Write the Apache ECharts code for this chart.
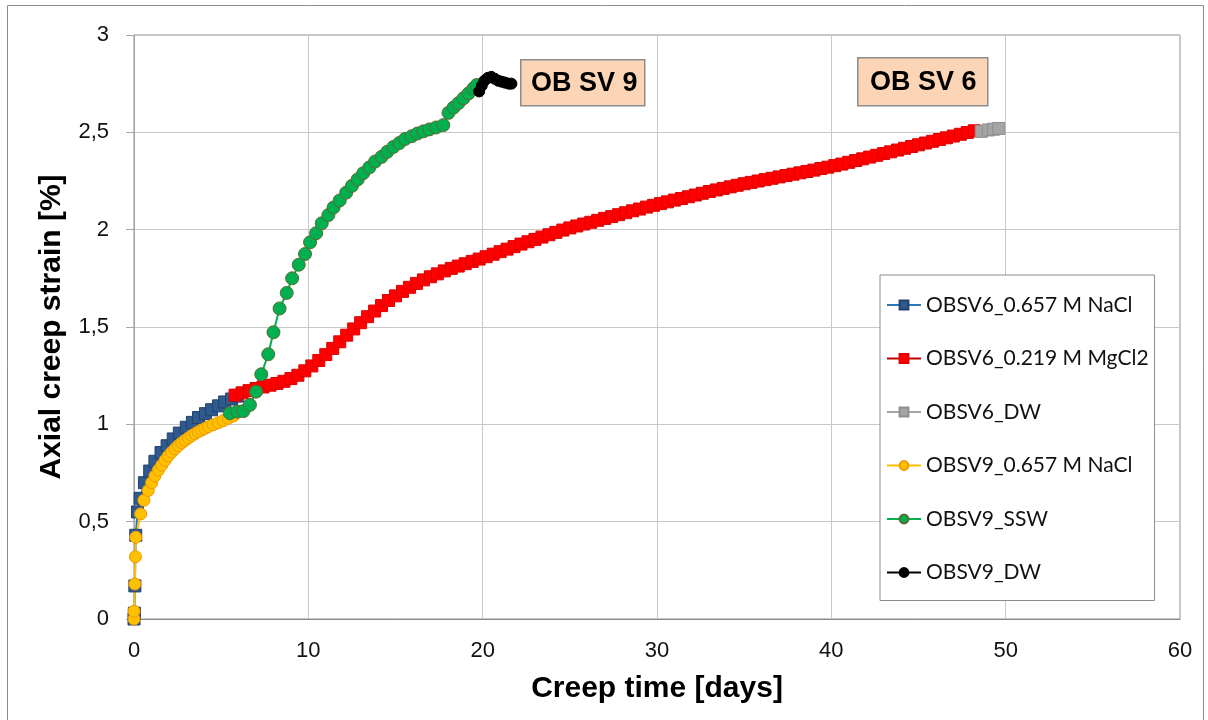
<!DOCTYPE html>
<html>
<head>
<meta charset="utf-8">
<script src="https://cdn.jsdelivr.net/npm/echarts@6/dist/echarts.min.js"></script>
<style>
  html, body { margin: 0; padding: 0; background: #fff; }
  #chart { width: 1208px; height: 720px; }
</style>
</head>
<body>
<div id="chart"></div>
<script>
// Creep tests: axial creep strain [%] versus creep time [days], pairs of [time, strain]
const seriesNames = [
  'OBSV6_0.657 M NaCl',
  'OBSV6_0.219 M MgCl2',
  'OBSV6_DW',
  'OBSV9_0.657 M NaCl',
  'OBSV9_SSW',
  'OBSV9_DW'
];

const obsv6NaCl = [
  [0, 0], [0.02, 0.03], [0.05, 0.17], [0.1, 0.43], [0.2, 0.55], [0.35, 0.62],
  [0.6, 0.70], [0.9, 0.76], [1.2, 0.81], [1.55, 0.855], [1.9, 0.89], [2.25, 0.925],
  [2.6, 0.955], [3.0, 0.985], [3.35, 1.01], [3.7, 1.035], [4.1, 1.055], [4.45, 1.075],
  [4.85, 1.095], [5.2, 1.115], [5.6, 1.13], [5.95, 1.145]
];

const obsv6MgCl2 = [
  [5.8, 1.150], [6.2, 1.162], [6.6, 1.173], [7.0, 1.184], [7.4, 1.192], [7.8, 1.201],
  [8.2, 1.210], [8.6, 1.221], [9.0, 1.235], [9.4, 1.252], [9.8, 1.275], [10.2, 1.300],
  [10.6, 1.328], [11.0, 1.358], [11.4, 1.390], [11.8, 1.424], [12.2, 1.458], [12.6, 1.490],
  [13.0, 1.522], [13.4, 1.553], [13.8, 1.582], [14.2, 1.610], [14.6, 1.636], [15.0, 1.660],
  [15.4, 1.683], [15.8, 1.704], [16.2, 1.724], [16.6, 1.742], [17.0, 1.758], [17.4, 1.773],
  [17.8, 1.788], [18.2, 1.801], [18.6, 1.813], [19.0, 1.825], [19.4, 1.837], [19.8, 1.849],
  [20.2, 1.861], [20.6, 1.874], [21.0, 1.887], [21.4, 1.900], [21.8, 1.913], [22.2, 1.926],
  [22.6, 1.938], [23.0, 1.950], [23.4, 1.962], [23.8, 1.974], [24.2, 1.986], [24.6, 1.998],
  [25.0, 2.009], [25.4, 2.019], [25.8, 2.029], [26.2, 2.038], [26.6, 2.048], [27.0, 2.058],
  [27.4, 2.067], [27.8, 2.077], [28.2, 2.087], [28.6, 2.097], [29.0, 2.106], [29.4, 2.116],
  [29.8, 2.125], [30.2, 2.134], [30.6, 2.143], [31.0, 2.152], [31.4, 2.160], [31.8, 2.169],
  [32.2, 2.178], [32.6, 2.187], [33.0, 2.196], [33.4, 2.204], [33.8, 2.212], [34.2, 2.220],
  [34.6, 2.228], [35.0, 2.236], [35.4, 2.243], [35.8, 2.250], [36.2, 2.257], [36.6, 2.264],
  [37.0, 2.271], [37.4, 2.278], [37.8, 2.285], [38.2, 2.292], [38.6, 2.299], [39.0, 2.306],
  [39.4, 2.314], [39.8, 2.321], [40.2, 2.329], [40.6, 2.337], [41.0, 2.346], [41.4, 2.355],
  [41.8, 2.364], [42.2, 2.373], [42.6, 2.382], [43.0, 2.391], [43.4, 2.400], [43.8, 2.409],
  [44.2, 2.418], [44.6, 2.427], [45.0, 2.436], [45.4, 2.445], [45.8, 2.454], [46.2, 2.463],
  [46.6, 2.472], [47.0, 2.481], [47.4, 2.490], [47.8, 2.499], [48.2, 2.508]
];

const obsv6DW = [
  [48.6, 2.505], [49.0, 2.512], [49.3, 2.516], [49.6, 2.52]
];

const obsv9NaCl = [
  [0, 0], [0, 0.04], [0.05, 0.18], [0.08, 0.32], [0.1, 0.42], [0.38, 0.54],
  [0.57, 0.61], [0.82, 0.66], [1.01, 0.70], [1.2, 0.735], [1.4, 0.765], [1.59, 0.79],
  [1.78, 0.815], [1.97, 0.838], [2.16, 0.857], [2.35, 0.874], [2.54, 0.89], [2.74, 0.905],
  [2.93, 0.918], [3.12, 0.93], [3.31, 0.942], [3.5, 0.952], [3.69, 0.962], [3.88, 0.971],
  [4.07, 0.979], [4.27, 0.988], [4.55, 0.998], [4.84, 1.008], [5.12, 1.019], [5.41, 1.031],
  [5.7, 1.043]
];

const obsv9SSW = [
  [5.5, 1.057], [5.93, 1.065], [6.28, 1.068], [6.65, 1.10], [7.0, 1.168], [7.3, 1.257],
  [7.7, 1.36], [8.0, 1.473], [8.35, 1.595], [8.76, 1.675], [9.07, 1.75], [9.45, 1.82],
  [9.81, 1.875], [10.1, 1.935], [10.45, 1.982], [10.77, 2.033], [11.15, 2.075], [11.45, 2.114],
  [11.8, 2.15], [12.17, 2.19], [12.5, 2.225], [12.83, 2.258], [13.15, 2.29], [13.5, 2.32],
  [13.83, 2.35], [14.2, 2.374], [14.53, 2.40], [14.88, 2.425], [15.22, 2.445], [15.55, 2.466],
  [15.93, 2.48], [16.26, 2.494], [16.6, 2.505], [16.94, 2.515], [17.33, 2.525], [17.74, 2.537],
  [18.04, 2.60], [18.33, 2.627], [18.61, 2.65], [18.9, 2.675], [19.19, 2.70], [19.47, 2.726],
  [19.66, 2.743]
];

const obsv9DW = [
  [19.8, 2.71], [19.95, 2.74], [20.1, 2.765], [20.3, 2.78], [20.5, 2.785], [20.7, 2.775],
  [20.9, 2.765], [21.1, 2.76], [21.3, 2.755], [21.5, 2.75], [21.65, 2.75]
];

const xTicks = { min: 0, max: 60, step: 10 };
const yTicks = { min: 0, max: 3, step: 0.5 };

const sampleLabels = ['OB SV 9', 'OB SV 6'];

function lineSeries(name, data, symbol, size, fill, border, lineColor) {
  return {
    name: name,
    type: 'line',
    data: data,
    symbol: symbol,
    symbolSize: size,
    showAllSymbol: true,
    smooth: false,
    lineStyle: { color: lineColor, width: 2 },
    itemStyle: { color: fill, borderColor: border, borderWidth: 1 },
    emphasis: { disabled: true },
    animation: false
  };
}

const chart = echarts.init(document.getElementById('chart'), null, { renderer: 'canvas' });

const labelFont = 'Liberation Sans, Arial, sans-serif';

chart.setOption({
  backgroundColor: '#ffffff',
  animation: false,
  grid: {
    left: 134, top: 35, right: 28, bottom: 101,
    show: true, borderColor: '#8c8c8c', borderWidth: 1, backgroundColor: 'transparent'
  },
  xAxis: {
    type: 'value',
    min: xTicks.min, max: xTicks.max, interval: xTicks.step,
    name: 'Creep time [days]',
    nameLocation: 'middle',
    nameGap: 55,
    nameTextStyle: { fontFamily: labelFont, fontWeight: 'bold', fontSize: 30, color: '#000' },
    axisLine: { show: true, lineStyle: { color: '#8c8c8c', width: 1 } },
    axisTick: { show: false },
    axisLabel: { fontFamily: labelFont, fontSize: 22, color: '#111', margin: 21 },
    splitLine: { show: true, lineStyle: { color: '#c8c8c8', width: 1 } }
  },
  yAxis: {
    type: 'value',
    min: yTicks.min, max: yTicks.max, interval: yTicks.step,
    name: 'Axial creep strain [%]',
    nameLocation: 'middle',
    nameGap: 67,
    nameTextStyle: { fontFamily: labelFont, fontWeight: 'bold', fontSize: 30, color: '#000' },
    axisLine: { show: true, lineStyle: { color: '#a6a6a6', width: 1 } },
    axisTick: { show: true, inside: false, length: 8, lineStyle: { color: '#a6a6a6' } },
    axisLabel: {
      fontFamily: labelFont, fontSize: 22, color: '#111', margin: 25,
      formatter: function (v) { return String(v).replace('.', ','); }
    },
    splitLine: { show: true, lineStyle: { color: '#c8c8c8', width: 1 } }
  },
  legend: {
    orient: 'vertical',
    left: 880, top: 275,
    padding: [18, 6, 16, 6],
    itemGap: 29.5,
    itemWidth: 34,
    itemHeight: 11,
    backgroundColor: '#ffffff',
    borderColor: '#8c8c8c',
    borderWidth: 1,
    textStyle: { fontFamily: 'Lato, Carlito, sans-serif', fontSize: 21, color: '#111', lineHeight: 24 },
    data: seriesNames
  },
  series: [
    lineSeries(seriesNames[0], obsv6NaCl, 'rect', 12, '#2f5a8e', '#22426d', '#2e75b6'),
    lineSeries(seriesNames[1], obsv6MgCl2, 'rect', 12, '#ff0000', '#e00000', '#c00000'),
    lineSeries(seriesNames[2], obsv6DW, 'rect', 12, '#a5a5a5', '#8f8f8f', '#a5a5a5'),
    lineSeries(seriesNames[3], obsv9NaCl, 'circle', 12, '#ffc000', '#ee9a00', '#ffc000'),
    lineSeries(seriesNames[4], obsv9SSW, 'circle', 13, '#00b050', '#5e6b2e', '#00b050'),
    lineSeries(seriesNames[5], obsv9DW, 'circle', 11, '#000000', '#000000', '#000000')
  ],
  graphic: [
    {
      type: 'rect', silent: true, z: -1,
      shape: { x: 7.5, y: 5.5, width: 1196, height: 730 },
      style: { fill: 'none', stroke: '#8c8c8c', lineWidth: 1 }
    },
    {
      type: 'group', left: 520, top: 59, z: 100,
      children: [
        { type: 'rect', shape: { x: 0.5, y: 0.5, width: 124, height: 46 },
          style: { fill: '#fbd5b5', stroke: '#8c8c8c', lineWidth: 1.5 } },
        { type: 'text', x: 64, y: 24,
          style: { text: sampleLabels[0], fill: '#000', font: 'bold 27px ' + labelFont,
                   textAlign: 'center', textVerticalAlign: 'middle' } }
      ]
    },
    {
      type: 'group', left: 857, top: 57, z: 100,
      children: [
        { type: 'rect', shape: { x: 0.5, y: 0.5, width: 130, height: 48 },
          style: { fill: '#fbd5b5', stroke: '#8c8c8c', lineWidth: 1.5 } },
        { type: 'text', x: 66, y: 25,
          style: { text: sampleLabels[1], fill: '#000', font: 'bold 27px ' + labelFont,
                   textAlign: 'center', textVerticalAlign: 'middle' } }
      ]
    }
  ]
});
</script>
</body>
</html>
